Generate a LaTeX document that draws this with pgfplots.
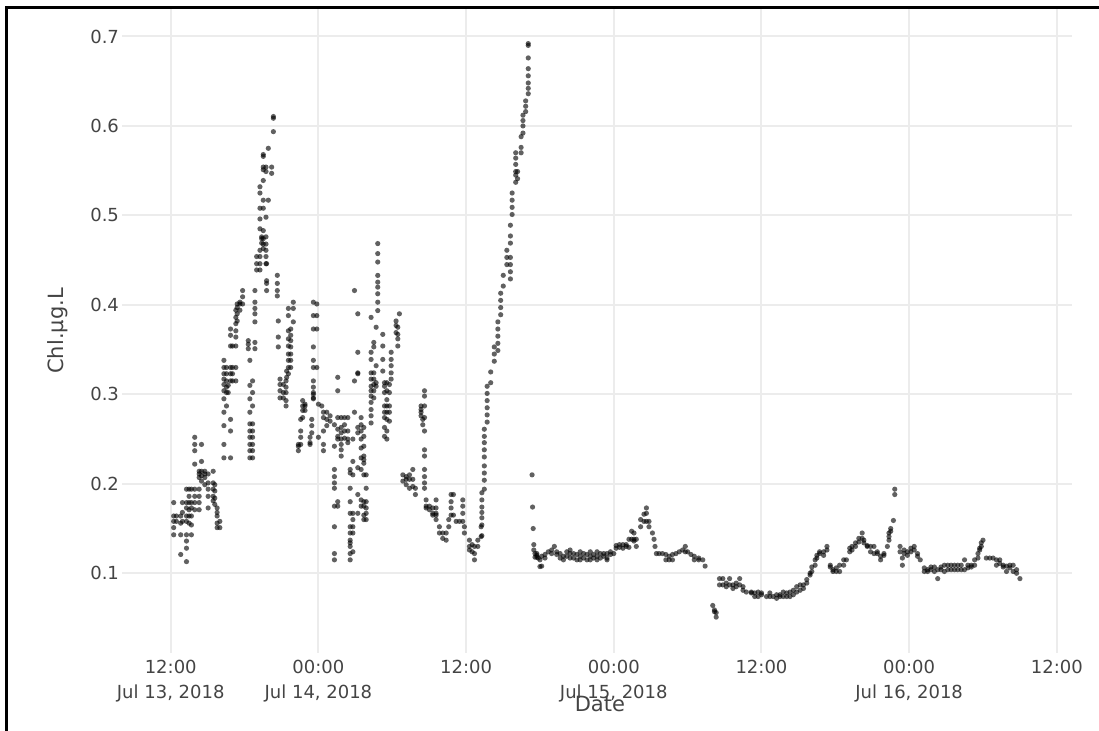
\documentclass[border=0pt]{standalone}
\usepackage{fontspec}
\setmainfont{DejaVu Sans}
\usepackage{pgfplots}
\pgfplotsset{compat=1.18}
\definecolor{txt}{RGB}{68,68,68}
\definecolor{gridc}{RGB}{236,236,236}
\begin{document}
\begin{tikzpicture}
\path[use as bounding box] (0,0) rectangle (549.5pt,365.5pt);
\begin{axis}[
  at={(61pt,39pt)}, anchor=south west,
  width=475pt, height=322pt, scale only axis,
  xmin=8.04, xmax=85.23, ymin=0.0109, ymax=0.7307,
  axis line style={draw=none},
  major tick length=0pt,
  grid=major,
  major grid style={draw=gridc, line width=1pt},
  xtick={12,24,36,48,60,72,84},
  xticklabels={{12:00\\Jul 13, 2018},{00:00\\Jul 14, 2018},{12:00},{00:00\\Jul 15, 2018},{12:00},{00:00\\Jul 16, 2018},{12:00}},
  xticklabel style={align=center, font=\fontsize{9}{12.5}\selectfont, text=txt},
  ytick={0.1,0.2,0.3,0.4,0.5,0.6,0.7},
  yticklabels={0.1,0.2,0.3,0.4,0.5,0.6,0.7},
  yticklabel style={font=\fontsize{9}{11}\selectfont, text=txt, xshift=2pt},
  xlabel={Date}, ylabel={Chl.µg.L},
  xlabel style={at={(axis description cs:0.503,-0.079)}, anchor=center, font=\fontsize{10.5}{12}\selectfont, text=txt},
  ylabel style={at={(axis description cs:-0.068,0.5)}, anchor=center, font=\fontsize{10.5}{12}\selectfont, text=txt},
]
\addplot[only marks, mark=*, mark size=1.3pt, line width=0pt, mark options={fill=black, fill opacity=0.62, draw opacity=0, line width=0pt}] coordinates {
(12.24,0.179)(12.24,0.164)(12.24,0.158)(12.24,0.151)(12.24,0.143)
(12.46,0.164)(12.46,0.158)
(12.81,0.121)(12.81,0.143)(12.81,0.156)(12.81,0.164)
(12.95,0.179)(12.95,0.168)(12.95,0.158)
(13.28,0.113)(13.28,0.128)(13.28,0.136)(13.28,0.143)(13.28,0.158)(13.28,0.164)(13.28,0.173)(13.28,0.179)(13.28,0.194)
(13.49,0.194)(13.49,0.186)(13.49,0.179)(13.49,0.171)(13.49,0.164)(13.49,0.156)
(13.68,0.194)(13.68,0.179)(13.68,0.173)(13.68,0.164)(13.68,0.154)(13.68,0.143)
(13.95,0.252)(13.95,0.244)(13.95,0.237)(13.95,0.222)(13.95,0.194)(13.95,0.186)(13.95,0.179)(13.95,0.171)
(14.31,0.214)(14.31,0.211)(14.31,0.207)(14.31,0.194)(14.31,0.186)(14.31,0.179)(14.31,0.171)
(14.5,0.244)(14.5,0.225)(14.5,0.214)(14.5,0.209)(14.5,0.203)
(14.77,0.214)(14.77,0.211)(14.77,0.207)(14.77,0.199)
(15.04,0.211)(15.04,0.201)(15.04,0.194)(15.04,0.186)(15.04,0.173)
(15.45,0.214)(15.45,0.201)(15.45,0.194)(15.45,0.186)(15.45,0.181)
(15.58,0.199)(15.58,0.192)(15.58,0.184)(15.58,0.177)
(15.77,0.173)(15.77,0.168)(15.77,0.164)(15.77,0.156)(15.77,0.151)
(15.99,0.158)(15.99,0.151)
(16.32,0.229)(16.32,0.244)(16.32,0.265)(16.32,0.28)(16.32,0.295)(16.32,0.304)(16.32,0.311)(16.32,0.317)(16.32,0.323)(16.32,0.33)(16.32,0.338)
(16.53,0.33)(16.53,0.323)(16.53,0.315)(16.53,0.308)(16.53,0.302)(16.53,0.287)
(16.67,0.31)(16.67,0.302)
(16.86,0.229)(16.86,0.259)(16.86,0.272)(16.86,0.315)(16.86,0.323)(16.86,0.33)(16.86,0.354)(16.86,0.366)(16.86,0.373)
(17.02,0.315)(17.02,0.323)(17.02,0.33)(17.02,0.354)
(17.29,0.315)(17.29,0.33)(17.29,0.354)(17.29,0.364)(17.29,0.371)(17.29,0.379)(17.29,0.386)(17.29,0.394)
(17.4,0.382)(17.4,0.39)(17.4,0.397)(17.4,0.401)
(17.62,0.394)(17.62,0.401)(17.62,0.403)
(17.84,0.401)(17.84,0.409)(17.84,0.416)
(18.3,0.36)(18.3,0.356)(18.3,0.351)
(18.43,0.229)(18.43,0.237)(18.43,0.244)(18.43,0.252)(18.43,0.259)(18.43,0.267)(18.43,0.28)(18.43,0.295)(18.43,0.31)(18.43,0.338)
(18.65,0.229)(18.65,0.237)(18.65,0.244)(18.65,0.252)(18.65,0.259)(18.65,0.267)(18.65,0.287)(18.65,0.302)(18.65,0.315)
(18.84,0.358)(18.84,0.351)(18.84,0.381)(18.84,0.39)(18.84,0.396)(18.84,0.403)(18.84,0.416)
(18.98,0.439)(18.98,0.446)(18.98,0.454)
(19.25,0.439)(19.25,0.446)(19.25,0.454)(19.25,0.461)(19.25,0.485)(19.25,0.496)(19.25,0.508)(19.25,0.525)(19.25,0.532)
(19.39,0.469)(19.39,0.476)(19.39,0.474)
(19.52,0.463)(19.52,0.468)(19.52,0.474)(19.52,0.483)(19.52,0.508)(19.52,0.517)(19.52,0.539)(19.52,0.551)(19.52,0.554)(19.52,0.566)(19.52,0.568)
(19.74,0.446)(19.74,0.454)(19.74,0.461)(19.74,0.468)(19.74,0.476)(19.74,0.498)(19.74,0.549)(19.74,0.554)
(19.79,0.416)(19.79,0.424)(19.79,0.427)(19.79,0.446)
(19.93,0.575)(19.93,0.517)
(20.2,0.554)(20.2,0.547)
(20.34,0.6105)(20.34,0.6086)(20.34,0.5936)
(20.66,0.433)(20.66,0.424)(20.66,0.416)(20.66,0.41)
(20.74,0.382)(20.74,0.364)(20.74,0.353)
(20.88,0.317)(20.88,0.311)(20.88,0.304)(20.88,0.296)
(21.15,0.311)(21.15,0.302)(21.15,0.296)
(21.37,0.315)(21.37,0.308)(21.37,0.302)(21.37,0.293)(21.37,0.287)
(21.42,0.326)(21.42,0.319)
(21.56,0.396)(21.56,0.388)(21.56,0.371)(21.56,0.362)(21.56,0.354)(21.56,0.345)(21.56,0.338)(21.56,0.33)(21.56,0.323)
(21.75,0.353)(21.75,0.345)(21.75,0.338)(21.75,0.33)(21.75,0.36)(21.75,0.366)(21.75,0.373)
(21.96,0.403)(21.96,0.396)(21.96,0.381)
(22.37,0.244)(22.37,0.242)(22.37,0.237)
(22.56,0.259)(22.56,0.252)(22.56,0.244)(22.56,0.272)
(22.72,0.293)(22.72,0.287)(22.72,0.282)(22.72,0.274)
(22.91,0.289)(22.91,0.282)(22.91,0.287)
(23.32,0.252)(23.32,0.246)(23.32,0.244)
(23.46,0.272)(23.46,0.265)(23.46,0.257)
(23.59,0.3)(23.59,0.296)(23.59,0.295)(23.59,0.302)(23.59,0.308)(23.59,0.315)(23.59,0.33)(23.59,0.338)(23.59,0.353)(23.59,0.373)(23.59,0.388)(23.59,0.403)
(23.87,0.401)(23.87,0.388)(23.87,0.373)(23.87,0.33)
(24.0,0.289)(24.0,0.252)
(24.27,0.287)
(24.41,0.237)(24.41,0.244)(24.41,0.259)(24.41,0.274)(24.41,0.28)
(24.68,0.28)(24.68,0.272)(24.68,0.265)
(24.95,0.276)(24.95,0.27)
(25.3,0.266)(25.3,0.242)(25.3,0.216)(25.3,0.208)(25.3,0.201)(25.3,0.195)(25.3,0.175)(25.3,0.152)(25.3,0.122)(25.3,0.115)
(25.57,0.319)(25.57,0.304)(25.57,0.274)(25.57,0.261)(25.57,0.253)(25.57,0.25)(25.57,0.18)(25.57,0.175)
(25.85,0.274)(25.85,0.263)(25.85,0.257)(25.85,0.25)(25.85,0.244)(25.85,0.238)(25.85,0.231)
(26.12,0.274)(26.12,0.266)(26.12,0.259)(26.12,0.251)
(26.39,0.274)(26.39,0.259)(26.39,0.25)(26.39,0.246)
(26.58,0.216)(26.58,0.212)(26.58,0.195)(26.58,0.18)(26.58,0.167)(26.58,0.152)(26.58,0.145)(26.58,0.137)(26.58,0.134)(26.58,0.13)(26.58,0.122)(26.58,0.115)
(26.8,0.25)(26.8,0.225)(26.8,0.21)(26.8,0.167)(26.8,0.16)(26.8,0.152)(26.8,0.145)(26.8,0.124)
(26.93,0.416)(26.93,0.315)(26.93,0.28)
(27.2,0.39)(27.2,0.347)(27.2,0.324)(27.2,0.323)(27.2,0.263)(27.2,0.257)(27.2,0.218)(27.2,0.188)(27.2,0.167)
(27.47,0.274)(27.47,0.266)(27.47,0.259)(27.47,0.25)(27.47,0.24)(27.47,0.229)(27.47,0.216)(27.47,0.182)(27.47,0.175)
(27.69,0.263)(27.69,0.253)(27.69,0.242)(27.69,0.231)(27.69,0.227)(27.69,0.223)(27.69,0.21)(27.69,0.18)(27.69,0.175)(27.69,0.165)(27.69,0.16)
(27.88,0.21)(27.88,0.195)(27.88,0.18)(27.88,0.173)(27.88,0.167)(27.88,0.16)
(28.28,0.386)(28.28,0.347)(28.28,0.339)(28.28,0.324)(28.28,0.317)(28.28,0.309)(28.28,0.304)(28.28,0.298)(28.28,0.291)(28.28,0.283)(28.28,0.276)(28.28,0.268)
(28.5,0.358)(28.5,0.353)(28.5,0.324)(28.5,0.317)(28.5,0.311)(28.5,0.304)(28.5,0.296)
(28.69,0.375)(28.69,0.332)(28.69,0.313)(28.69,0.309)
(28.82,0.4685)(28.82,0.4573)(28.82,0.4479)(28.82,0.4329)(28.82,0.4254)(28.82,0.4198)(28.82,0.4124)(28.82,0.403)(28.82,0.3936)
(29.23,0.367)(29.23,0.354)(29.23,0.339)(29.23,0.326)
(29.37,0.313)(29.37,0.309)(29.37,0.302)(29.37,0.287)(29.37,0.28)(29.37,0.274)(29.37,0.263)(29.37,0.253)
(29.56,0.313)(29.56,0.304)(29.56,0.294)(29.56,0.287)(29.56,0.28)(29.56,0.272)(29.56,0.259)(29.56,0.25)
(29.77,0.311)(29.77,0.302)(29.77,0.287)(29.77,0.28)(29.77,0.27)
(29.91,0.347)(29.91,0.339)(29.91,0.332)(29.91,0.324)(29.91,0.317)
(30.31,0.382)(30.31,0.377)(30.31,0.369)
(30.45,0.375)(30.45,0.367)(30.45,0.362)(30.45,0.354)
(30.58,0.39)
(30.86,0.21)(30.86,0.203)
(31.13,0.208)(31.13,0.205)(31.13,0.199)
(31.4,0.21)(31.4,0.205)(31.4,0.195)
(31.67,0.216)(31.67,0.205)(31.67,0.197)
(31.88,0.195)(31.88,0.188)
(32.34,0.287)(32.34,0.283)(32.34,0.28)(32.34,0.276)
(32.48,0.272)(32.48,0.266)
(32.62,0.304)(32.62,0.298)(32.62,0.287)(32.62,0.274)(32.62,0.259)(32.62,0.238)(32.62,0.231)(32.62,0.216)(32.62,0.208)(32.62,0.201)(32.62,0.195)
(32.75,0.182)(32.75,0.175)(32.75,0.173)
(33.02,0.175)(33.02,0.171)
(33.29,0.173)(33.29,0.167)(33.29,0.165)
(33.56,0.182)(33.56,0.173)(33.56,0.167)(33.56,0.165)(33.56,0.16)
(33.83,0.152)(33.83,0.145)
(34.1,0.145)(34.1,0.139)
(34.38,0.145)(34.38,0.137)
(34.59,0.152)(34.59,0.16)
(34.78,0.188)(34.78,0.18)(34.78,0.173)(34.78,0.165)
(34.97,0.188)(34.97,0.165)
(35.19,0.158)
(35.46,0.158)
(35.73,0.182)(35.73,0.175)(35.73,0.167)(35.73,0.158)
(35.86,0.152)(35.86,0.145)
(36.27,0.137)(36.27,0.13)(36.27,0.126)
(36.49,0.132)(36.49,0.124)
(36.68,0.13)(36.68,0.122)(36.68,0.115)
(36.95,0.137)(36.95,0.13)
(37.22,0.141)(37.22,0.152)
(37.28,0.142)(37.28,0.154)(37.28,0.162)(37.28,0.168)(37.28,0.174)(37.28,0.182)(37.28,0.19)
(37.48,0.194)(37.48,0.204)(37.48,0.212)(37.48,0.22)(37.48,0.23)(37.48,0.238)(37.48,0.246)(37.48,0.253)(37.48,0.261)
(37.71,0.269)(37.71,0.277)(37.71,0.285)(37.71,0.293)(37.71,0.301)(37.71,0.309)
(38.0,0.313)(38.0,0.325)
(38.29,0.337)(38.29,0.345)(38.29,0.353)
(38.58,0.349)(38.58,0.357)(38.58,0.365)(38.58,0.373)(38.58,0.381)
(38.81,0.389)(38.81,0.397)(38.81,0.405)(38.81,0.413)
(39.02,0.421)(39.02,0.433)
(39.31,0.445)(39.31,0.453)(39.31,0.461)
(39.6,0.429)(39.6,0.437)(39.6,0.445)(39.6,0.453)(39.6,0.469)(39.6,0.477)(39.6,0.489)
(39.74,0.501)(39.74,0.509)(39.74,0.517)(39.74,0.525)
(40.03,0.537)(40.03,0.545)(40.03,0.549)(40.03,0.557)(40.03,0.564)(40.03,0.57)
(40.18,0.541)(40.18,0.549)
(40.47,0.57)(40.47,0.576)(40.47,0.588)
(40.62,0.592)(40.62,0.6)(40.62,0.606)(40.62,0.612)
(40.84,0.616)(40.84,0.622)(40.84,0.628)
(41.05,0.636)(41.05,0.642)(41.05,0.648)(41.05,0.656)(41.05,0.664)(41.05,0.676)(41.05,0.69)(41.05,0.692)
(41.36,0.21)(41.4,0.174)(41.45,0.15)(41.5,0.132)(41.5,0.126)
(41.6,0.122)(41.6,0.118)(41.75,0.118)(41.75,0.122)(41.75,0.12)
(41.86,0.117)(42.0,0.115)(42.0,0.1075)(42.14,0.108)(42.14,0.119)
(42.41,0.121)(42.41,0.117)(42.68,0.124)(42.95,0.126)(42.95,0.122)
(43.17,0.13)(43.36,0.124)(43.36,0.121)(43.64,0.122)(43.64,0.117)
(43.91,0.119)(43.91,0.115)(44.18,0.124)(44.18,0.119)
(44.45,0.126)(44.45,0.122)(44.45,0.117)(44.73,0.122)(44.73,0.117)
(45.0,0.121)(45.0,0.115)(45.27,0.124)(45.27,0.119)(45.27,0.115)
(45.55,0.122)(45.55,0.117)(45.82,0.121)(45.82,0.115)
(46.09,0.124)(46.09,0.119)(46.09,0.115)(46.36,0.121)(46.36,0.117)
(46.64,0.124)(46.64,0.119)(46.64,0.115)(46.91,0.122)(46.91,0.117)
(47.18,0.122)(47.18,0.119)(47.45,0.122)(47.45,0.117)(47.45,0.115)
(47.73,0.124)(47.73,0.121)(48.0,0.122)
(48.19,0.131)(48.19,0.128)(48.46,0.132)(48.46,0.129)(48.74,0.132)(48.74,0.128)
(49.01,0.132)(49.01,0.13)(49.23,0.138)(49.23,0.129)(49.45,0.138)(49.45,0.147)
(49.64,0.145)(49.64,0.138)(49.64,0.136)(49.83,0.138)(49.83,0.13)
(50.18,0.152)(50.18,0.16)(50.45,0.158)(50.45,0.166)
(50.65,0.173)(50.65,0.167)(50.65,0.158)(50.86,0.158)(50.86,0.152)
(51.14,0.145)(51.27,0.138)(51.35,0.13)(51.46,0.122)(51.68,0.122)(51.95,0.122)
(52.23,0.121)(52.23,0.115)(52.5,0.119)(52.5,0.115)(52.77,0.121)(52.77,0.115)
(53.05,0.122)(53.32,0.124)(53.59,0.126)(53.81,0.13)(53.81,0.124)(54.0,0.124)
(54.27,0.121)(54.54,0.119)(54.54,0.115)(54.9,0.117)(54.9,0.115)(55.23,0.115)(55.42,0.108)
(56.04,0.064)(56.18,0.059)(56.18,0.057)(56.32,0.056)(56.32,0.051)
(56.59,0.094)(56.59,0.087)(56.86,0.094)(56.86,0.087)(57.14,0.089)(57.14,0.085)
(57.41,0.094)(57.41,0.087)(57.68,0.087)(57.68,0.083)(57.95,0.089)(57.95,0.085)
(58.23,0.094)(58.23,0.087)(58.5,0.085)(58.5,0.081)(58.77,0.079)
(59.18,0.079)(59.18,0.078)(59.45,0.078)(59.45,0.074)(59.73,0.079)(59.73,0.074)
(60.0,0.078)(60.0,0.076)(60.41,0.074)(60.68,0.074)(60.68,0.078)(60.95,0.074)
(61.23,0.076)(61.23,0.072)(61.5,0.076)(61.5,0.074)(61.77,0.079)(61.77,0.074)
(62.05,0.078)(62.05,0.074)(62.32,0.079)(62.32,0.074)
(62.59,0.081)(62.59,0.076)(62.86,0.085)(62.86,0.079)(63.14,0.087)(63.14,0.081)
(63.41,0.087)(63.41,0.083)(63.68,0.093)(63.68,0.089)(63.95,0.098)(63.95,0.1)
(64.09,0.102)(64.09,0.107)(64.36,0.109)(64.36,0.115)(64.5,0.12)(64.5,0.117)
(64.72,0.122)(64.72,0.124)(65.05,0.12)(65.05,0.124)(65.32,0.13)(65.32,0.126)
(65.59,0.109)(65.59,0.107)(65.81,0.102)(65.81,0.104)(66.08,0.102)(66.08,0.106)
(66.35,0.102)(66.35,0.109)(66.68,0.109)(66.68,0.115)(66.9,0.115)
(67.17,0.124)(67.17,0.128)(67.36,0.13)(67.36,0.126)(67.64,0.13)(67.64,0.134)
(67.91,0.135)(67.91,0.139)(68.18,0.145)(68.18,0.139)(68.32,0.137)(68.32,0.134)
(68.59,0.13)(68.59,0.131)(68.86,0.13)(68.86,0.124)(69.14,0.13)(69.14,0.122)
(69.41,0.122)(69.41,0.124)(69.68,0.119)(69.68,0.115)(69.95,0.12)(69.95,0.122)
(70.23,0.13)(70.36,0.137)(70.36,0.141)(70.36,0.145)(70.5,0.15)(70.5,0.147)
(70.72,0.159)(70.83,0.188)(70.83,0.194)
(71.26,0.13)(71.26,0.124)(71.45,0.117)(71.45,0.109)(71.59,0.126)(71.59,0.122)
(71.86,0.124)(71.86,0.12)(72.14,0.124)(72.14,0.128)(72.41,0.13)(72.41,0.126)
(72.68,0.122)(72.68,0.119)(72.9,0.115)
(73.23,0.106)(73.23,0.102)(73.5,0.104)(73.5,0.102)(73.77,0.107)(73.77,0.104)
(74.05,0.107)(74.05,0.102)(74.32,0.104)(74.32,0.094)(74.59,0.107)(74.59,0.104)
(74.86,0.109)(74.86,0.102)(75.14,0.109)(75.14,0.104)(75.41,0.109)(75.41,0.104)
(75.68,0.109)(75.68,0.104)(75.95,0.109)(75.95,0.104)(76.23,0.109)(76.23,0.104)
(76.5,0.115)(76.5,0.104)(76.77,0.109)(76.77,0.106)(77.05,0.109)(77.05,0.107)
(77.32,0.115)(77.32,0.109)(77.59,0.122)(77.59,0.117)(77.73,0.128)(77.73,0.126)
(77.86,0.13)(77.86,0.134)(78.0,0.137)
(78.27,0.117)(78.55,0.117)(78.82,0.117)(79.09,0.115)(79.09,0.109)
(79.36,0.115)(79.36,0.111)(79.64,0.109)(79.64,0.107)(79.91,0.108)(79.91,0.102)
(80.18,0.109)(80.18,0.106)(80.45,0.109)(80.45,0.102)(80.73,0.104)(80.73,0.1)
(81.0,0.094)
};
\end{axis}
\draw[line width=1.5pt, black] (3pt,0pt) -- (3pt,361.75pt) -- (549.5pt,361.75pt);
\end{tikzpicture}
\end{document}
